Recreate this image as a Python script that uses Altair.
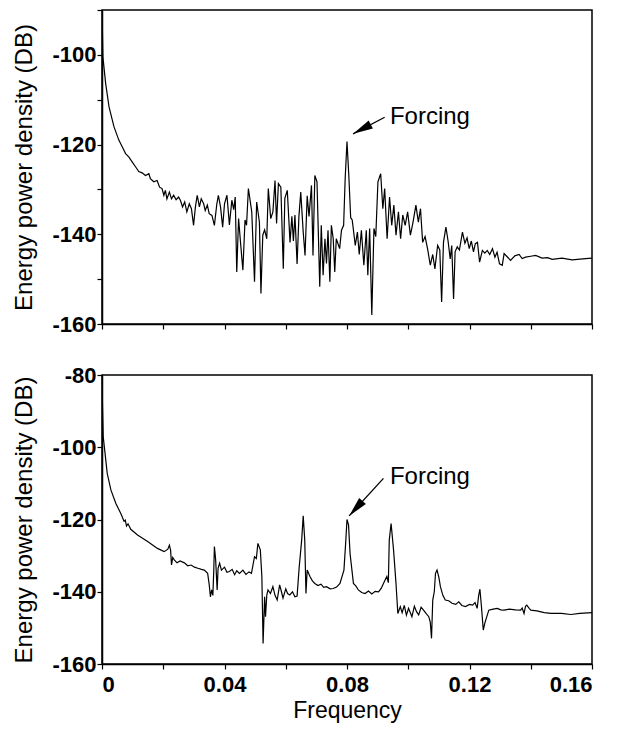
import altair as alt
import pandas as pd

# ---------------- data ----------------
top_freq = [0.0000, 0.0003, 0.0012, 0.0023, 0.0039, 0.0055, 0.0066, 0.0077, 0.0088, 0.0099,
            0.0110, 0.0120, 0.0131, 0.0142, 0.0153, 0.0158, 0.0169, 0.0180, 0.0188, 0.0196,
            0.0202, 0.0207, 0.0212, 0.0220, 0.0227, 0.0234, 0.0242, 0.0250, 0.0256, 0.0263,
            0.0270, 0.0277, 0.0285, 0.0292, 0.0299, 0.0305, 0.0311, 0.0318, 0.0324, 0.0332,
            0.0337, 0.0344, 0.0350, 0.0359, 0.0367, 0.0375, 0.0380, 0.0387, 0.0394, 0.0400,
            0.0408, 0.0416, 0.0424, 0.0430, 0.0435, 0.0440, 0.0446, 0.0453, 0.0460, 0.0467,
            0.0472, 0.0478, 0.0489, 0.0498, 0.0505, 0.0514, 0.0519, 0.0525, 0.0531, 0.0538,
            0.0543, 0.0551, 0.0558, 0.0565, 0.0570, 0.0576, 0.0584, 0.0592, 0.0597, 0.0605,
            0.0614, 0.0620, 0.0625, 0.0630, 0.0637, 0.0643, 0.0649, 0.0657, 0.0663, 0.0670,
            0.0676, 0.0684, 0.0689, 0.0695, 0.0702, 0.0711, 0.0716, 0.0722, 0.0728, 0.0733,
            0.0738, 0.0744, 0.0749, 0.0755, 0.0760, 0.0765, 0.0776, 0.0782, 0.0789, 0.0794,
            0.0800, 0.0806, 0.0812, 0.0817, 0.0827, 0.0834, 0.0840, 0.0847, 0.0855, 0.0863,
            0.0868, 0.0874, 0.0881, 0.0888, 0.0894, 0.0901, 0.0910, 0.0917, 0.0923, 0.0931,
            0.0939, 0.0946, 0.0953, 0.0960, 0.0968, 0.0975, 0.0982, 0.0990, 0.0998, 0.1007,
            0.1015, 0.1025, 0.1033, 0.1040, 0.1047, 0.1055, 0.1063, 0.1072, 0.1080, 0.1087,
            0.1096, 0.1103, 0.1109, 0.1115, 0.1123, 0.1130, 0.1137, 0.1142, 0.1148, 0.1153,
            0.1160, 0.1167, 0.1177, 0.1185, 0.1192, 0.1199, 0.1206, 0.1213, 0.1219, 0.1226,
            0.1233, 0.1242, 0.1250, 0.1258, 0.1266, 0.1275, 0.1283, 0.1290, 0.1298, 0.1307,
            0.1313, 0.1323, 0.1334, 0.1348, 0.1362, 0.1372, 0.1383, 0.1400, 0.1416, 0.1437,
            0.1455, 0.1470, 0.1502, 0.1535, 0.1570, 0.1600]
top_db = [-90.0, -100.5, -106.4, -111.6, -116.0, -119.0, -120.5, -122.0, -122.8, -123.9,
          -125.0, -126.0, -126.3, -126.9, -126.5, -127.6, -128.3, -128.0, -129.5, -129.8,
          -131.3, -130.2, -132.1, -130.6, -132.1, -131.3, -132.3, -131.7, -132.4, -133.9,
          -132.8, -135.0, -133.2, -134.3, -138.0, -133.9, -131.3, -133.9, -132.1, -133.2,
          -134.7, -133.5, -135.4, -135.8, -138.0, -133.2, -131.3, -133.9, -138.4, -133.2,
          -131.3, -137.9, -132.4, -134.5, -131.7, -148.4, -136.5, -142.4, -148.0, -136.8,
          -138.0, -129.8, -135.0, -150.6, -132.8, -137.3, -153.2, -140.2, -139.0, -141.0,
          -129.8, -136.5, -135.0, -128.0, -137.6, -128.7, -129.5, -147.7, -132.0, -130.2,
          -141.8, -136.0, -141.5, -135.7, -146.6, -136.0, -130.6, -139.5, -144.7, -131.4,
          -136.0, -129.1, -144.7, -126.9, -128.3, -151.7, -138.0, -149.1, -141.0, -146.5,
          -139.1, -150.6, -138.0, -141.0, -148.4, -141.0, -143.2, -139.1, -138.0, -127.6,
          -119.3, -127.0, -136.3, -136.8, -142.5, -139.5, -144.5, -139.1, -146.9, -139.1,
          -149.1, -138.7, -158.0, -138.7, -140.5, -128.3, -126.5, -134.3, -129.8, -141.0,
          -131.7, -138.0, -133.5, -140.2, -135.0, -141.0, -135.7, -138.0, -135.0, -140.2,
          -137.5, -133.5, -137.3, -134.3, -141.8, -140.5, -143.2, -146.9, -144.5, -147.7,
          -142.5, -143.5, -155.1, -141.8, -138.4, -141.5, -145.5, -142.5, -154.4, -143.9,
          -142.8, -143.5, -139.5, -142.0, -140.8, -143.2, -141.5, -143.9, -142.1, -141.8,
          -146.2, -143.6, -144.2, -143.6, -144.5, -143.2, -145.1, -144.0, -146.6, -146.9,
          -144.3, -145.0, -145.8, -144.8, -144.5, -145.4, -145.1, -144.9, -144.7, -145.3,
          -145.2, -145.6, -145.3, -145.7, -145.5, -145.3]

bot_freq = [0.0000, 0.0002, 0.0004, 0.0010, 0.0017, 0.0029, 0.0045, 0.0061, 0.0072, 0.0076,
            0.0080, 0.0085, 0.0094, 0.0116, 0.0149, 0.0181, 0.0203, 0.0215, 0.0220, 0.0224,
            0.0227, 0.0231, 0.0236, 0.0245, 0.0255, 0.0269, 0.0280, 0.0291, 0.0302, 0.0313,
            0.0325, 0.0334, 0.0345, 0.0350, 0.0354, 0.0358, 0.0362, 0.0365, 0.0367, 0.0371,
            0.0376, 0.0379, 0.0384, 0.0390, 0.0400, 0.0408, 0.0416, 0.0425, 0.0433, 0.0440,
            0.0449, 0.0460, 0.0470, 0.0480, 0.0488, 0.0498, 0.0504, 0.0509, 0.0517, 0.0522,
            0.0526, 0.0531, 0.0534, 0.0538, 0.0542, 0.0550, 0.0558, 0.0565, 0.0572, 0.0580,
            0.0586, 0.0591, 0.0600, 0.0606, 0.0613, 0.0622, 0.0630, 0.0637, 0.0644, 0.0652,
            0.0657, 0.0662, 0.0666, 0.0670, 0.0679, 0.0687, 0.0695, 0.0705, 0.0715, 0.0724,
            0.0733, 0.0745, 0.0755, 0.0766, 0.0777, 0.0790, 0.0796, 0.0800, 0.0805, 0.0810,
            0.0821, 0.0830, 0.0837, 0.0848, 0.0859, 0.0870, 0.0881, 0.0892, 0.0903, 0.0912,
            0.0919, 0.0930, 0.0935, 0.0938, 0.0944, 0.0952, 0.0960, 0.0966, 0.0974, 0.0980,
            0.0987, 0.0994, 0.1001, 0.1012, 0.1020, 0.1027, 0.1034, 0.1042, 0.1050, 0.1058,
            0.1067, 0.1072, 0.1076, 0.1080, 0.1085, 0.1089, 0.1094, 0.1100, 0.1105, 0.1113,
            0.1121, 0.1132, 0.1143, 0.1155, 0.1165, 0.1175, 0.1187, 0.1200, 0.1210, 0.1218,
            0.1225, 0.1230, 0.1234, 0.1239, 0.1245, 0.1250, 0.1263, 0.1277, 0.1291, 0.1302,
            0.1313, 0.1330, 0.1350, 0.1367, 0.1372, 0.1378, 0.1383, 0.1387, 0.1395, 0.1400,
            0.1420, 0.1444, 0.1466, 0.1500, 0.1531, 0.1560, 0.1600]
bot_db = [-82.0, -90.0, -97.1, -101.7, -107.2, -111.8, -115.5, -118.3, -120.5, -120.2,
          -121.8, -121.2, -122.7, -124.3, -126.1, -128.0, -128.9, -128.2, -127.1, -128.5,
          -132.6, -130.5, -131.2, -132.0, -131.5, -132.0, -132.8, -132.6, -133.2, -133.5,
          -133.8, -134.0, -134.9, -138.0, -141.4, -139.5, -141.0, -134.0, -127.5, -131.0,
          -139.5, -133.5, -132.1, -134.0, -133.2, -134.6, -134.4, -133.8, -135.3, -134.2,
          -134.9, -134.0, -135.2, -134.5, -134.9, -130.3, -130.8, -126.6, -128.4, -135.8,
          -154.3, -141.4, -146.9, -141.0, -139.5, -140.5, -138.6, -141.0, -142.3, -138.1,
          -140.0, -141.8, -139.2, -140.5, -140.9, -140.0, -141.4, -141.2, -133.1, -125.7,
          -119.0, -125.7, -140.5, -134.0, -135.8, -137.0, -137.7, -138.3, -137.9, -138.8,
          -138.6, -139.2, -139.1, -138.7, -137.7, -134.0, -126.0, -120.0, -121.5, -129.4,
          -137.7, -138.5, -139.5, -140.2, -140.5, -139.8, -140.6, -139.9, -140.0, -139.0,
          -137.7, -135.8, -137.5, -125.7, -121.1, -128.4, -137.7, -146.0, -144.1, -145.8,
          -143.8, -146.5, -144.6, -146.9, -144.0, -145.5, -146.4, -144.3, -145.1, -146.0,
          -146.9, -148.5, -152.9, -142.3, -140.0, -134.9, -134.0, -136.0, -138.6, -141.0,
          -142.3, -142.5, -143.2, -143.5, -142.8, -143.8, -144.1, -143.5, -143.7, -143.0,
          -144.6, -141.0, -139.3, -144.1, -150.6, -148.7, -145.1, -144.8, -144.6, -145.0,
          -145.1, -144.8, -145.0, -145.1, -144.5, -146.0, -144.0, -143.7, -144.6, -145.1,
          -145.3, -145.8, -146.0, -146.0, -146.3, -146.0, -145.8]

x_tick_values = [0.0, 0.01, 0.02, 0.03, 0.04, 0.05, 0.06, 0.07, 0.08,
                 0.09, 0.10, 0.11, 0.12, 0.13, 0.14, 0.15, 0.16]
top_y_ticks = [-160, -150, -140, -130, -120, -110, -100, -90]
bot_y_ticks = [-160, -150, -140, -130, -120, -110, -100, -90, -80]

annot_label = ["Forcing"]
top_arrow = {"tail_f": [0.0923], "tail_v": [-113.9], "tip_f": [0.0820], "tip_v": [-117.6],
             "text_f": [0.0940], "text_v": [-113.9]}
bot_arrow = {"tail_f": [0.0919], "tail_v": [-108.6], "tip_f": [0.0807], "tip_v": [-119.0],
             "text_f": [0.0940], "text_v": [-108.2]}

FONT = "Liberation Sans"
ARROW_PATH = "M0,0L0.45,2L-0.45,2Z"


def panel(freq, db, ydomain, yticks, height, arrow, head_angle, bottom):
    df = pd.DataFrame({"f": freq, "v": db})
    xaxis_kw = dict(values=x_tick_values, tickSize=5, grid=False)
    if bottom:
        xaxis_kw.update(
            title="Frequency",
            labelExpr="round(datum.value*100) % 4 == 0 ? (datum.value == 0 ? '0' : format(datum.value, '.2f')) : ''",
            labelPadding=5, titlePadding=4, labelFontSize=22, titleFontSize=23,
        )
    else:
        xaxis_kw.update(labels=False, title="")
    x = alt.X("f:Q", scale=alt.Scale(domain=[0, 0.16], nice=False, zero=False),
              axis=alt.Axis(**xaxis_kw))
    y = alt.Y("v:Q", scale=alt.Scale(domain=ydomain, nice=False, zero=False),
              axis=alt.Axis(values=yticks, tickSize=5, grid=False, labelPadding=1,
                            labelFontSize=22,
                            labelExpr="datum.value % 20 == 0 ? '' + datum.value : ''",
                            title="Energy power density (DB)", titlePadding=15))
    line = alt.Chart(df).mark_line(color="black", strokeWidth=1.2, clip=True).encode(x=x, y=y)

    adf = pd.DataFrame(dict(arrow, label=annot_label))
    shaft = alt.Chart(adf).mark_rule(color="black", strokeWidth=1.3).encode(
        x="tail_f:Q", y="tail_v:Q", x2="tip_f:Q", y2="tip_v:Q")
    head = alt.Chart(adf).mark_point(shape=ARROW_PATH, filled=True, color="black",
                                     opacity=1, size=400, angle=head_angle).encode(
        x="tip_f:Q", y="tip_v:Q")
    text = alt.Chart(adf).mark_text(align="left", baseline="middle", font=FONT,
                                    fontSize=24, color="black").encode(
        x="text_f:Q", y="text_v:Q", text="label:N")
    return alt.layer(line, shaft, head, text).properties(width=490, height=height)


top = panel(top_freq, top_db, [-160, -90], top_y_ticks, 314, top_arrow, 242, False)
bot = panel(bot_freq, bot_db, [-160, -80], bot_y_ticks, 289, bot_arrow, 222, True)

chart = alt.vconcat(top, bot, spacing=27).properties(
    padding={"left": 4, "top": 0, "right": 0, "bottom": 0},
    background="white"
).configure_view(
    stroke="black", strokeWidth=1.5
).configure_axis(
    domainColor="black", domainWidth=1.5, tickColor="black", tickWidth=1.2,
    labelFont=FONT, labelFontWeight="bold", labelFontSize=21, labelColor="black",
    titleFont=FONT, titleFontWeight="normal", titleFontSize=24, titleColor="black",
    labelPadding=3
)

chart.save("out.html", embed_options={"renderer": "svg", "actions": False})
